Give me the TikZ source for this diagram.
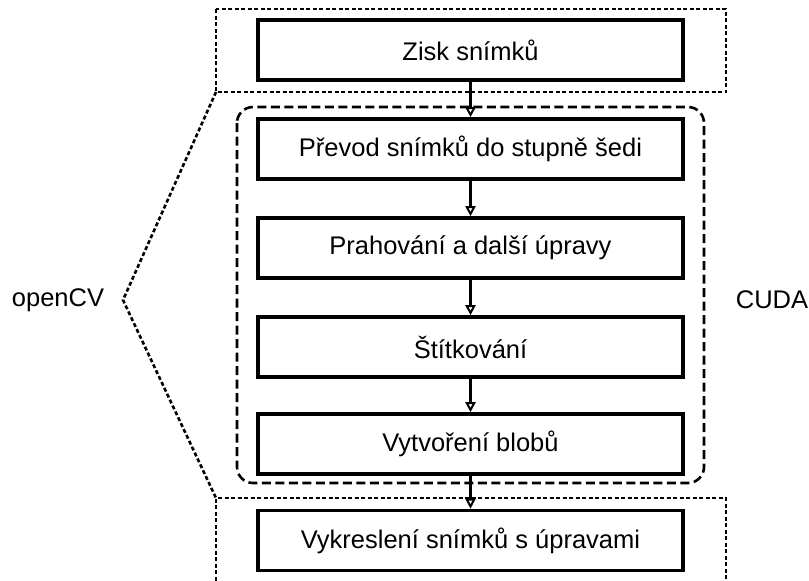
\documentclass[tikz,border=0pt]{standalone}
\usepackage{fontspec}
\setmainfont{Liberation Sans}
\usetikzlibrary{arrows.meta}
\begin{document}
\begin{tikzpicture}[x=1pt,y=-1pt,
  stepbox/.style={draw, line width=3.6pt, minimum width=425pt, minimum height=60pt, inner sep=0pt, font=\fontsize{25.5}{30}\selectfont},
  lbl/.style={font=\fontsize{25.5}{30}\selectfont, inner sep=0pt},
  flow/.style={line width=2.4pt, -{Triangle[open, length=10pt, width=10pt, line width=2pt]}},
  dotline/.style={line width=2.6pt, dash pattern=on 4pt off 2.5pt},
  dashline/.style={line width=2.6pt, dash pattern=on 9pt off 4.5pt}]
\useasboundingbox (0,0) rectangle (809,581);
\clip (0,0) rectangle (809,581);
% openCV dotted outline
\draw[dotline] (216,9) rectangle (726,92);
\draw[dotline] (216,92) -- (123,300) -- (216,498);
\draw[dotline] (216,600) -- (216,498) -- (726,498) -- (726,600);
% CUDA dashed rounded outline
\draw[dashline, rounded corners=16pt] (237,107) rectangle (704,483);
% boxes
\node[stepbox] (b1) at (470.5,50) {Zisk snímků};
\node[stepbox] (b2) at (470.5,149) {Převod snímků do stupně šedi};
\node[stepbox] (b3) at (470.5,248) {Prahování a další úpravy};
\node[stepbox] (b4) at (470.5,347) {Štítkování};
\node[stepbox] (b5) at (470.5,444) {Vytvoření blobů};
\node[stepbox] (b6) at (470.5,540.5) {Vykreslení snímků s úpravami};
\foreach \a/\b in {b1/b2,b2/b3,b3/b4,b4/b5,b5/b6}
  \draw[flow] (\a.south) -- (\b.north);
\node[lbl] (ocv) at (58,300) {openCV};
\node[lbl] (cuda) at (772,300) {CUDA};
\end{tikzpicture}
\end{document}
